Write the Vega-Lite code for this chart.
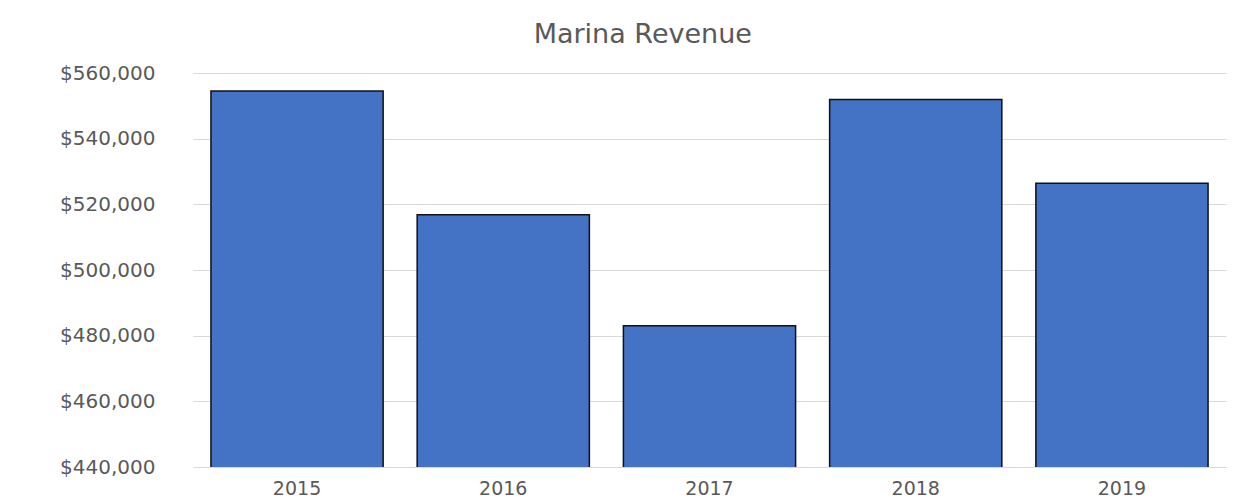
{
  "$schema": "https://vega.github.io/schema/vega-lite/v6.json",
  "autosize": "none",
  "width": 1033,
  "height": 394,
  "padding": {"left": 193, "top": 73, "right": 34, "bottom": 37},
  "background": "white",
  "title": {
    "text": "Marina Revenue",
    "font": "DejaVu Sans",
    "fontSize": 27,
    "fontWeight": "normal",
    "color": "#595959",
    "anchor": "middle",
    "frame": "bounds",
    "offset": 14
  },
  "data": {
    "values": [
      {"year": "2015", "revenue": 554500},
      {"year": "2016", "revenue": 516800},
      {"year": "2017", "revenue": 483000},
      {"year": "2018", "revenue": 551900},
      {"year": "2019", "revenue": 526400}
    ]
  },
  "mark": {"type": "bar", "fill": "#4472C4", "stroke": "#111111", "strokeWidth": 1.5, "clip": true},
  "encoding": {
    "x": {
      "field": "year",
      "type": "ordinal",
      "scale": {"paddingInner": 0.165, "paddingOuter": 0.087},
      "axis": {
        "title": null,
        "labelAngle": 0,
        "labelFont": "DejaVu Sans",
        "labelFontSize": 19,
        "labelColor": "#595959",
        "labelPadding": 12,
        "ticks": false,
        "domainColor": "#d9d9d9",
        "domainWidth": 1
      }
    },
    "y": {
      "field": "revenue",
      "type": "quantitative",
      "scale": {"domain": [440000, 560000], "nice": false, "zero": false},
      "axis": {
        "title": null,
        "values": [440000, 460000, 480000, 500000, 520000, 540000, 560000],
        "format": "$,.0f",
        "labelFont": "DejaVu Sans",
        "labelFontSize": 20,
        "labelColor": "#595959",
        "labelPadding": 38,
        "ticks": false,
        "domain": false,
        "gridColor": "#d9d9d9",
        "gridWidth": 1
      }
    }
  },
  "config": {"view": {"stroke": null}}
}
